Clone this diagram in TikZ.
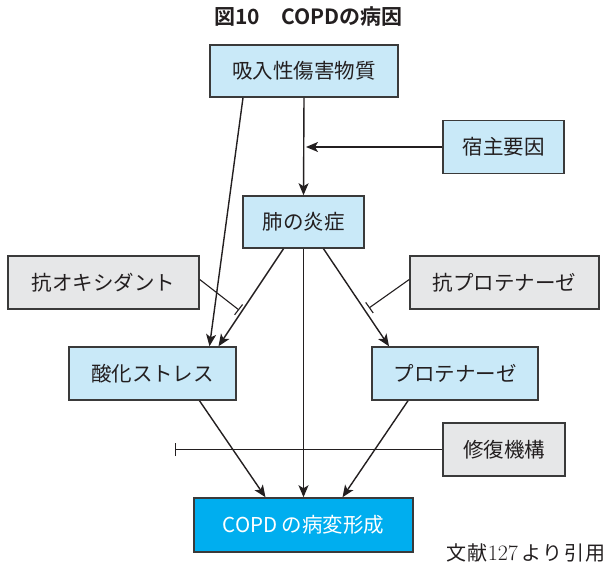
\documentclass[tikz,border=0pt]{standalone}
\usepackage{fontspec}
\newfontfamily\jp{Noto Sans CJK JP}
\newfontfamily\jpb{Noto Sans CJK JP Bold}
\newfontfamily\jpsp{Noto Sans CJK JP}[LetterSpace=8]
\usetikzlibrary{arrows.meta,calc}
\definecolor{lblue}{HTML}{C9E9F8}
\definecolor{lgray}{HTML}{E6E7E8}
\definecolor{cyanb}{HTML}{00AEEF}
\definecolor{ink}{HTML}{231F20}
\definecolor{edge}{HTML}{3A3A3A}
\tikzset{
  boxb/.style={draw=edge,line width=1.5pt,fill=lblue,inner sep=0pt,text=ink,font=\jp\fontsize{20.5}{24}\selectfont},
  boxg/.style={draw=edge,line width=1.5pt,fill=lgray,inner sep=0pt,text=ink,font=\jp\fontsize{20.5}{24}\selectfont},
  arr/.style={draw=ink,line width=1.4pt,-{Stealth[length=12pt,width=10pt,inset=3pt]}},
  inh/.style={draw=ink,line width=1.1pt,-{Bar[width=13pt,line width=1.1pt]}},
}
\begin{document}
\begin{tikzpicture}[x=1pt,y=-1pt]
\useasboundingbox (0,0) rectangle (606,565);
\node[text=ink,font=\jpb\fontsize{21}{24}\selectfont] (title) at (308.5,17) {図10\hspace{1em}COPDの病因};
\node[boxb,minimum width=188pt,minimum height=52pt] (inh0) at (304,71) {吸入性傷害物質};
\node[boxb,minimum width=121pt,minimum height=53pt] (host) at (503.5,147) {宿主要因};
\node[boxb,minimum width=121pt,minimum height=52pt] (lung) at (303.5,222) {肺の炎症};
\node[boxg,minimum width=191pt,minimum height=53pt] (aox) at (103.5,282.5) {抗オキシダント};
\node[boxg,minimum width=189pt,minimum height=53pt] (apr) at (504.5,282.5) {抗プロテナーゼ};
\node[boxb,minimum width=167pt,minimum height=53pt] (ox) at (152.5,373.5) {酸化ストレス};
\node[boxb,minimum width=166pt,minimum height=53pt] (pro) at (455,373.5) {プロテナーゼ};
\node[boxg,minimum width=122pt,minimum height=53pt] (rep) at (504,449.5) {修復機構};
\node[draw=edge,line width=1.5pt,fill=cyanb,inner sep=0pt,text=white,font=\jp\fontsize{20.5}{24}\selectfont,minimum width=219pt,minimum height=54pt] (copd) at (303.5,525) {COPD の病変形成};
\node[text=ink,font=\jpsp\fontsize{20}{24}\selectfont,anchor=east,inner sep=0pt] (ref) at (606,553) {文献{\rmfamily\fontsize{22}{24}\selectfont 127}\,より引用};
% connectors
\coordinate (hostT) at (306,147);
\draw[arr] (inh0.south) -- (lung.north);
\draw[arr] (host.west) -- (hostT);
\draw[arr] ([xshift=-61pt]inh0.south) -- ([xshift=57pt]ox.north);
\draw[arr] ([xshift=-20pt]lung.south) -- ([xshift=66pt]ox.north);
\draw[arr] ([xshift=20pt]lung.south) -- ([xshift=-66pt]pro.north);
\draw[arr] (lung.south) -- (copd.north);
\draw[arr] ([xshift=47pt]ox.south) -- ([xshift=-38pt]copd.north);
\draw[arr] ([xshift=-47pt]pro.south) -- ([xshift=39pt]copd.north);
\coordinate (aoxT) at (239,310);
\coordinate (aprT) at (369,308);
\coordinate (repT) at (175,449.5);
\draw[inh] ([yshift=3pt]aox.east) -- (aoxT);
\draw[inh] ([yshift=3pt]apr.west) -- (aprT);
\draw[inh] (rep.west) -- (repT);
\end{tikzpicture}
\end{document}
